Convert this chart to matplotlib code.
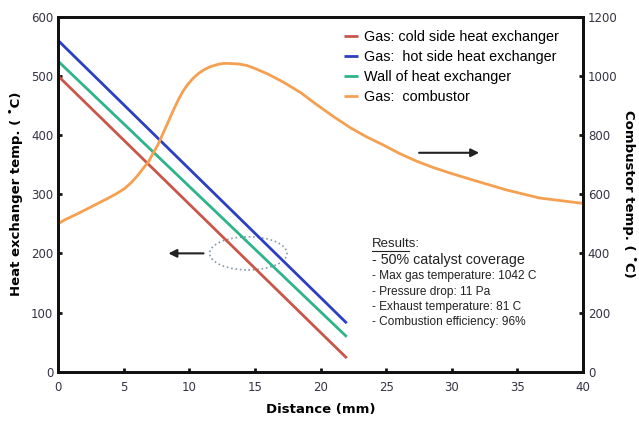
import matplotlib
matplotlib.use("Agg")
import matplotlib.pyplot as plt
from matplotlib.patches import Ellipse

# Data
dist_hx = [0, 22]
gas_cold = [500, 23]
gas_hot = [560, 82]
wall = [525, 59]

dist_comb = [0, 0.5, 1.4, 2.3, 3.0, 3.8, 4.5, 5.1, 5.6, 6.1, 6.5, 6.9, 7.2, 7.6, 8.0, 8.4,
             8.8, 9.2, 9.55, 9.9, 10.3, 10.7, 11.1, 11.6, 12.2, 12.6, 13.0, 13.8, 14.4, 15.0,
             16.0, 17.2, 18.5, 19.7, 21.0, 22.3, 23.5, 24.8, 26.0, 27.3, 28.6, 29.9, 31.6,
             34.2, 36.7, 40]
gas_comb = [500, 513, 532, 552, 568, 586, 603, 620, 640, 665, 688, 710, 735, 766, 805, 845,
            885, 922, 950, 972, 992, 1008, 1020, 1031, 1039, 1042, 1042, 1040, 1035, 1025,
            1006, 978, 943, 903, 862, 824, 794, 766, 738, 712, 690, 671, 648,
            614, 587, 569]

labels = ["Gas: cold side heat exchanger", "Gas:  hot side heat exchanger",
          "Wall of heat exchanger", "Gas:  combustor"]
colors = ["#c8564a", "#2b3fc4", "#2fb38a", "#f5a050"]

results = ["- Max gas temperature: 1042 C", "- Pressure drop: 11 Pa",
           "- Exhaust temperature: 81 C", "- Combustion efficiency: 96%"]

fig = plt.figure(figsize=(6.39, 4.22), dpi=100)
ax = fig.add_axes([58/639, 1-371.7/422, (583-58)/639, (371.7-16.7)/422])
ax2 = ax.twinx()

kw = dict(lw=2, solid_joinstyle="round", solid_capstyle="butt")
l1, = ax.plot(dist_hx, gas_cold, color=colors[0], label=labels[0], **kw)
l2, = ax.plot(dist_hx, gas_hot, color=colors[1], label=labels[1], **kw)
l3, = ax.plot(dist_hx, wall, color=colors[2], label=labels[2], **kw)
l4, = ax2.plot(dist_comb, gas_comb, color=colors[3], label=labels[3], **kw)

ax.set_xlim(0, 40)
ax.set_ylim(0, 600)
ax2.set_ylim(0, 1200)
ax.set_xticks(range(0, 41, 5))
ax.set_yticks(range(0, 601, 100))
ax2.set_yticks(range(0, 1201, 200))

for a in (ax, ax2):
    for s in a.spines.values():
        s.set_linewidth(2)
        s.set_color("#111111")
    a.tick_params(direction="in", length=3, width=2, labelsize=8.5, colors="#111111",
                  labelcolor="#333344")
ax.tick_params(axis="x", pad=7)

lblfont = dict(fontsize=9.5, fontweight="bold", family="DejaVu Sans")
ax.set_xlabel("Distance (mm)", labelpad=6, **lblfont)
ax.set_ylabel("Heat exchanger temp. ( ˚C)", labelpad=6, **lblfont)
ax2.set_ylabel("Combustor temp. ( ˚C)", rotation=270, va="bottom", labelpad=3, **lblfont)

leg = ax.legend(handles=[l1, l2, l3, l4], loc="upper left",
                bbox_to_anchor=((338-58)/525, 1-(24-16.7)/355),
                frameon=False, handlelength=1.0, handletextpad=0.4,
                labelspacing=0.42, borderaxespad=0,
                prop=dict(family="Liberation Sans", size=10.4))

# Arrows and ellipse
ax.annotate("", xy=(8.2, 200), xytext=(11.3, 200),
            arrowprops=dict(arrowstyle="-|>", color="#222222", lw=1.5, mutation_scale=12))
ax.add_patch(Ellipse((14.5, 200), 5.9, 56, fill=False, ls=":", lw=1.2, ec="#8899aa"))
ax.annotate("", xy=(32.3, 370), xytext=(27.3, 370),
            arrowprops=dict(arrowstyle="-|>", color="#222222", lw=1.5, mutation_scale=12))

# Results text
ax.text(23.9, 215, "Results:", fontsize=9.5, family="Liberation Sans", color="#222222",
        va="center")
ax.plot([23.9, 26.75], [204, 204], color="#222222", lw=0.8)
ax.text(23.9, 188, "- 50% catalyst coverage", fontsize=10.3, family="Liberation Sans",
        color="#222222", va="center")
for i, t in enumerate(results):
    ax.text(23.9, 161 - i * 25.5, t, fontsize=8.6, family="Liberation Sans",
            color="#222222", va="center")

fig.savefig("out.png", dpi=100)
